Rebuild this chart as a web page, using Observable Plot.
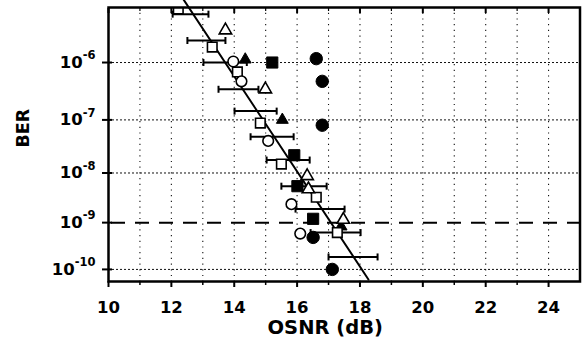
<!DOCTYPE html>
<html><head><meta charset="utf-8">
<script src="https://cdn.jsdelivr.net/npm/d3@7"></script>
<script src="https://cdn.jsdelivr.net/npm/@observablehq/plot@0.6"></script>
<style>body{margin:0;background:#fff} svg{display:block}</style>
</head><body><div id="chart"></div>
<script>
// ---- data ----
const osnrTicks = [10, 12, 14, 16, 18, 20, 22, 24];
const osnrMinor = [11, 13, 15, 17, 19, 21, 23];
const osnrGrid = [11, 12, 13, 14, 15, 16, 17, 18, 19, 20, 21, 22, 23, 24];
const berTicks = [1e-6, 1e-7, 1e-8, 1e-9, 1e-10];
const berExponents = ["-6", "-7", "-8", "-9", "-10"];
const berGrid = [1e-6, 1e-7, 1e-8, 1e-10];
const berThreshold = [1e-9];
const berDomain = [7.6e-6, 5.4e-11];
const osnrDomain = [10, 25];

const openTriOSNR = [13.72, 14.99, 16.32, 16.36, 17.47];
const openTriBER  = [3.35e-6, 3.5e-7, 8.7e-9, 4.8e-9, 1.15e-9];
const filledTriOSNR = [14.35, 15.53, 17.40];
const filledTriBER  = [1.12e-6, 1.0e-7, 8.3e-10];
const openSqOSNR = [12.22, 13.30, 14.10, 14.83, 15.50, 16.61, 17.28];
const openSqBER  = [7.2e-6, 1.8e-6, 6.95e-7, 8.75e-8, 1.49e-8, 3.3e-9, 6.2e-10];
const filledSqOSNR = [15.21, 15.91, 16.01, 16.51];
const filledSqBER  = [1.0e-6, 2.2e-8, 5.5e-9, 1.2e-9];
const openCircOSNR = [13.97, 14.23, 15.08, 15.82, 16.10];
const openCircBER  = [1.04e-6, 4.8e-7, 4.1e-8, 2.4e-9, 5.9e-10];
const filledCircOSNR = [16.61, 16.80, 16.80, 16.51, 17.12];
const filledCircBER  = [1.16e-6, 4.8e-7, 8.0e-8, 4.9e-10, 1.0e-10];

const errBER = [6.0e-6, 2.3e-6, 1.0e-6, 3.5e-7, 1.44e-7, 4.9e-8, 1.78e-8, 5.5e-9, 1.9e-9, 6.2e-10, 1.87e-10];
const errLo  = [12.04, 12.51, 13.02, 13.50, 14.01, 14.52, 15.03, 15.50, 15.95, 16.43, 17.00];
const errHi  = [13.18, 13.72, 14.40, 14.77, 15.35, 15.89, 16.40, 16.94, 17.51, 18.02, 18.56];

const fitOSNR = [12.39, 18.27];
const fitBER  = [1e-5, 6.0e-11];

// ---- BER -> Q-factor transform (inverse normal) ----
function probit(p) {
  const a=[-3.969683028665376e+01,2.209460984245205e+02,-2.759285104469687e+02,1.383577518672690e+02,-3.066479806614716e+01,2.506628277459239e+00];
  const b=[-5.447609879822406e+01,1.615858368580409e+02,-1.556989798598866e+02,6.680131188771972e+01,-1.328068155288572e+01];
  const c=[-7.784894002430293e-03,-3.223964580411365e-01,-2.400758277161838e+00,-2.549732539343734e+00,4.374664141464968e+00,2.938163982698783e+00];
  const d=[7.784695709041462e-03,3.224671290700398e-01,2.445134137142996e+00,3.754408661907416e+00];
  const pl = 0.02425, ph = 1 - pl;
  if (p < pl) { const q = Math.sqrt(-2*Math.log(p)); return (((((c[0]*q+c[1])*q+c[2])*q+c[3])*q+c[4])*q+c[5])/((((d[0]*q+d[1])*q+d[2])*q+d[3])*q+1); }
  if (p > ph) { const q = Math.sqrt(-2*Math.log(1-p)); return -(((((c[0]*q+c[1])*q+c[2])*q+c[3])*q+c[4])*q+c[5])/((((d[0]*q+d[1])*q+d[2])*q+d[3])*q+1); }
  const q = p - 0.5, r = q*q;
  return (((((a[0]*r+a[1])*r+a[2])*r+a[3])*r+a[4])*r+a[5])*q/(((((b[0]*r+b[1])*r+b[2])*r+b[3])*r+b[4])*r+1);
}
const Q = ber => -probit(ber);

const pts = (xs, ys) => xs.map((x, i) => ({osnr: x, ber: ys[i]}));
const errBars = errBER.map((b, i) => ({ber: b, lo: errLo[i], hi: errHi[i]}));
const fitLine = pts(fitOSNR, fitBER);
const tickLabel = new Map(berTicks.map((b, i) => [Q(b), "10^" + berExponents[i]]));

const capSymbol = { draw(ctx, size) { const h = Math.sqrt(size / Math.PI); ctx.moveTo(0, -h); ctx.lineTo(0, h); } };

const FONT = "DejaVu Sans, Verdana, sans-serif";
const seriesMark = (data, symbol, filled, r) =>
  Plot.dot(data, {x: "osnr", y: d => Q(d.ber), symbol, r, fill: filled ? "black" : "white",
                  stroke: "black", strokeWidth: filled ? 1 : 1.6, clip: true});

const chart = Plot.plot({
  width: 584, height: 347,
  marginLeft: 108, marginRight: 4.5, marginTop: 7, marginBottom: 66,
  style: {fontFamily: FONT, background: "white", overflow: "visible"},
  x: {domain: osnrDomain},
  y: {domain: berDomain.map(Q).reverse()},
  marks: [
    Plot.ruleX(osnrGrid, {stroke: "#111", strokeWidth: 1.1, strokeDasharray: "1.2,4.5"}),
    Plot.ruleY(berGrid, {y: Q, stroke: "#111", strokeWidth: 1, strokeDasharray: "2,2"}),
    Plot.ruleY(berThreshold, {y: Q, stroke: "black", strokeWidth: 2, strokeDasharray: "14,10", strokeDashoffset: -3}),
    Plot.line(fitLine, {x: "osnr", y: d => Q(d.ber), stroke: "black", strokeWidth: 2}),
    Plot.link(errBars, {x1: "lo", x2: "hi", y1: d => Q(d.ber), y2: d => Q(d.ber), stroke: "black", strokeWidth: 2}),
    Plot.dot(errBars, {x: "lo", y: d => Q(d.ber), symbol: capSymbol, r: 3.5, fill: "none", stroke: "black", strokeWidth: 2}),
    Plot.dot(errBars, {x: "hi", y: d => Q(d.ber), symbol: capSymbol, r: 3.5, fill: "none", stroke: "black", strokeWidth: 2}),
    seriesMark(pts(filledTriOSNR, filledTriBER), "triangle", true, 4.4),
    seriesMark(pts(filledSqOSNR, filledSqBER), "square", true, 6.3),
    seriesMark(pts(openSqOSNR, openSqBER), "square", false, 5.4),
    seriesMark(pts(openCircOSNR, openCircBER), "circle", false, 5.3),
    seriesMark(pts(filledCircOSNR, filledCircBER), "circle", true, 6.2),
    seriesMark(pts(openTriOSNR, openTriBER), "triangle", false, 4.6),
    Plot.frame({stroke: "black", strokeWidth: 2.5}),
    // bottom axis
    Plot.axisX({ticks: osnrTicks, tickSize: 6, tickPadding: 14, strokeWidth: 2, fontSize: 16.5, fontWeight: "bold", tickFormat: d => String(d), label: null}),
    Plot.axisX({ticks: osnrMinor, tickSize: 4, strokeWidth: 1.5, text: null, label: null}),
    Plot.axisX({anchor: "top", ticks: osnrTicks, tickSize: 5, dy: 5, strokeWidth: 2, text: null, label: null}),
    Plot.axisX({anchor: "top", ticks: osnrMinor, tickSize: 3, dy: 3, strokeWidth: 1.2, text: null, label: null}),
    // left axis
    Plot.axisY({ticks: berTicks.map(Q), tickSize: 10, dx: 4, strokeWidth: 2, text: null, label: null}),
    Plot.axisY({ticks: berTicks.map(Q), tickSize: 0, tickPadding: 13, fontSize: 16.5, fontWeight: "bold", tickFormat: q => tickLabel.get(q), label: null}),
    Plot.text(["OSNR (dB)"], {frameAnchor: "bottom", dx: -19, dy: 52, fontSize: 19.5, fontWeight: "bold", fontFamily: FONT}),
    Plot.text(["BER"], {frameAnchor: "left", dx: -85, dy: 3, rotate: -90, fontSize: 17.5, fontWeight: "bold", fontFamily: FONT})
  ]
});

// superscript exponents on the y tick labels
chart.querySelectorAll("text").forEach(t => {
  const s = t.textContent;
  if (s.includes("^")) {
    const [base, exp] = s.split("^");
    t.textContent = "";
    const ns = "http://www.w3.org/2000/svg";
    const t1 = document.createElementNS(ns, "tspan"); t1.textContent = base;
    const t2 = document.createElementNS(ns, "tspan"); t2.textContent = exp;
    t2.setAttribute("font-size", "11.5"); t2.setAttribute("dy", "-8.5");
    t.appendChild(t1); t.appendChild(t2);
  }
});
document.getElementById("chart").appendChild(chart);
</script></body></html>
